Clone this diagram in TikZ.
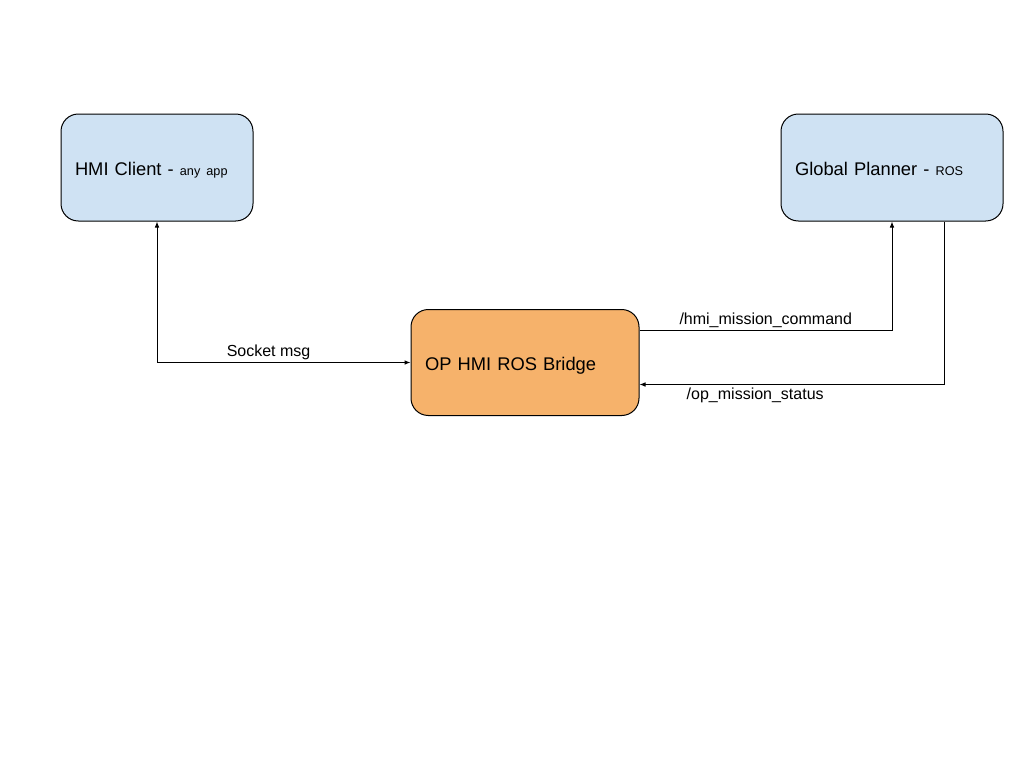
\documentclass[tikz,border=0pt]{standalone}
\usepackage{fontspec}
\setmainfont{Liberation Sans}
\usetikzlibrary{arrows.meta}
\definecolor{boxblue}{HTML}{CFE2F3}
\definecolor{boxorange}{HTML}{F6B26B}
\begin{document}
\begin{tikzpicture}[x=0.75pt,y=-0.75pt,
  box/.style={draw=black, line width=0.75pt, rounded corners=13pt, align=left, anchor=center,
    inner xsep=10.5pt, text height=13pt, text depth=1.5pt, font=\fontsize{13.75}{16}\selectfont},
  conn/.style={draw=black, line width=0.75pt},
  tip/.style={-{Latex[length=4.5pt,width=3.5pt]}},
  lbl/.style={font=\fontsize{12}{14}\selectfont, inner sep=2pt}
]
\useasboundingbox (0,0) rectangle (1024,768);
\node[box, fill=boxblue, minimum width=144pt, minimum height=80.25pt, text width=123pt] (hmi) at (157,167.5)
  {HMI Client - {\fontsize{9.5}{11}\selectfont any app}};
\node[box, fill=boxblue, minimum width=166.5pt, minimum height=80.25pt, text width=145.5pt] (gp) at (892,167.5)
  {Global Planner - {\fontsize{9.5}{11}\selectfont ROS}};
\node[box, fill=boxorange, minimum width=171pt, minimum height=79.5pt, text width=150pt] (bridge) at (525,362.5)
  {OP HMI ROS Bridge};
\coordinate (cmdstart) at ([yshift=24pt]bridge.east);
\coordinate (statstart) at ([xshift=39pt]gp.south);
\coordinate (statend) at ([yshift=-16.5pt]bridge.east);
\draw[conn, {Latex[length=4.5pt,width=3.5pt]}-{Latex[length=4.5pt,width=3.5pt]}] (hmi.south) |- node[lbl, pos=0.72, anchor=south] (l1) {Socket msg} (bridge.west);
\draw[conn, tip] (cmdstart) -| node[lbl, pos=0.25, anchor=south] (l2) {/hmi\_mission\_command} (gp.south);
\draw[conn, tip] (statstart) |- node[lbl, pos=0.81, anchor=north] (l3) {/op\_mission\_status} (statend);
\end{tikzpicture}
\end{document}
